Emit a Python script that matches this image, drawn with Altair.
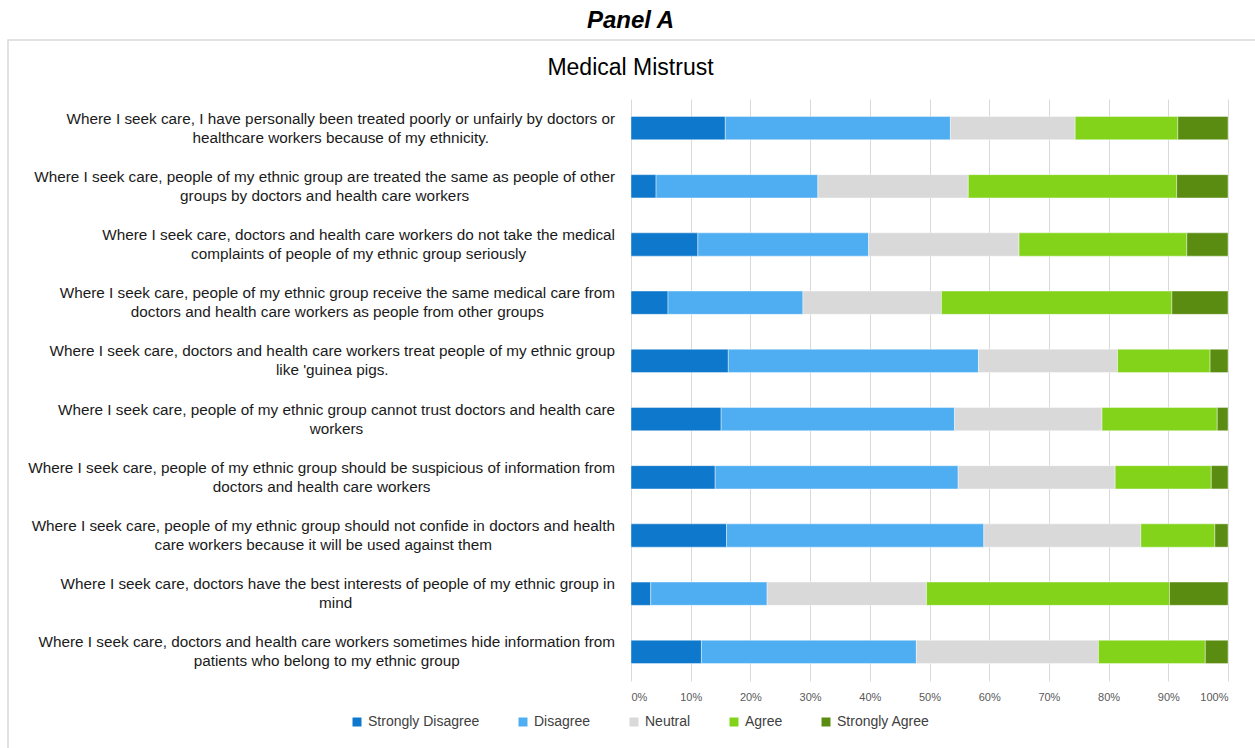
import altair as alt
import pandas as pd

# ---------------- data ----------------
line1 = [
    "Where I seek care, I have personally been treated poorly or unfairly by doctors or",
    "Where I seek care, people of my ethnic group are treated the same as people of other",
    "Where I seek care, doctors and health care workers do not take the medical",
    "Where I seek care, people of my ethnic group receive the same medical care from",
    "Where I seek care, doctors and health care workers treat people of my ethnic group",
    "Where I seek care, people of my ethnic group cannot trust doctors and health care",
    "Where I seek care, people of my ethnic group should be suspicious of information from",
    "Where I seek care, people of my ethnic group should not confide in doctors and health",
    "Where  I seek care, doctors have the best interests of people of my ethnic group in",
    "Where I seek care, doctors and health care workers sometimes hide information from",
]
line2 = [
    "healthcare workers because of my ethnicity.",
    "groups by doctors and health care workers",
    "complaints of people of my ethnic group seriously",
    "doctors and health care workers as people from other groups",
    "like 'guinea pigs.",
    "workers",
    "doctors and health care workers",
    "care workers because it will be used against them",
    "mind",
    "patients who belong to my ethnic group",
]
categories = ["Strongly Disagree", "Disagree", "Neutral", "Agree", "Strongly Agree"]
strongly_disagree = [15.8, 4.2, 11.2, 6.2, 16.3, 15.1, 14.1, 16.0, 3.3, 11.8]
disagree          = [37.7, 27.1, 28.6, 22.6, 41.9, 39.1, 40.7, 43.1, 19.5, 36.0]
neutral           = [20.9, 25.2, 25.2, 23.2, 23.3, 24.7, 26.3, 26.3, 26.7, 30.5]
agree             = [17.2, 34.9, 28.1, 38.6, 15.5, 19.3, 16.1, 12.4, 40.7, 17.9]
strongly_agree    = [8.4, 8.6, 6.9, 9.4, 3.0, 1.8, 2.8, 2.2, 9.8, 3.8]
x_ticks = [0, 0.1, 0.2, 0.3, 0.4, 0.5, 0.6, 0.7, 0.8, 0.9, 1.0]

colors = ["#0E78CC", "#4FAEF2", "#D9D9D9", "#82D31A", "#5A8C12"]

# ---------------- layout constants ----------------
W, H = 597, 582
FONT = "Liberation Sans"
LABEL_FS = 15.3
LABEL_GAP = 16

# Arial / Liberation Sans advance widths (per 1000 em)
_w = {" ": 278, "'": 191, ",": 278, ".": 278, "-": 333, "I": 278, "W": 944,
      "a": 556, "b": 556, "c": 500, "d": 556, "e": 556, "f": 278, "g": 556,
      "h": 556, "i": 222, "j": 222, "k": 500, "l": 222, "m": 833, "n": 556,
      "o": 556, "p": 556, "q": 556, "r": 333, "s": 500, "t": 278, "u": 556,
      "v": 500, "w": 722, "x": 500, "y": 500, "z": 500}


def text_width(s, fs):
    return sum(_w.get(ch, 556) for ch in s) * fs / 1000.0


questions = [a + " " + b for a, b in zip(line1, line2)]
series = [strongly_disagree, disagree, neutral, agree, strongly_agree]

rows = []
for qi, q in enumerate(questions):
    for ci, cat in enumerate(categories):
        rows.append({"question": q, "category": cat, "order": ci,
                     "value": series[ci][qi]})
bars_df = pd.DataFrame(rows)

lab_df = pd.DataFrame({
    "question": questions,
    "l1": line1,
    "l2": line2,
})
lab_df["x1"] = -LABEL_GAP
lab_df["x2"] = [-LABEL_GAP - text_width(s, LABEL_FS) / 2 for s in line1]

y_enc = alt.Y("question:N", sort=questions, axis=None,
              scale=alt.Scale(paddingInner=0.6, paddingOuter=0.3))

bars = alt.Chart(bars_df).mark_bar(stroke="white", strokeWidth=0.8,
                                    strokeOpacity=0.5).encode(
    x=alt.X("value:Q", stack="normalize", title=None,
            scale=alt.Scale(domain=[0, 1]),
            axis=alt.Axis(values=x_ticks, format=".0%", grid=True,
                          gridColor="#D9D9D9", gridWidth=1, domain=False,
                          ticks=False, labelFontSize=11, labelFont=FONT,
                          labelColor="#595959", labelPadding=10)),
    y=y_enc,
    color=alt.Color("category:N", sort=categories,
                    scale=alt.Scale(domain=categories, range=colors),
                    legend=alt.Legend(title=None, orient="none",
                                      direction="horizontal",
                                      legendX=-281, legendY=616,
                                      symbolType="square", symbolSize=81,
                                      symbolStrokeWidth=0, labelFontSize=14,
                                      labelFont=FONT, labelColor="#404040",
                                      columnPadding=36, labelOffset=4,
                                      padding=0)),
    order=alt.Order("order:Q"),
)

xs = alt.Scale(domain=[0, W])
lab1 = alt.Chart(lab_df).mark_text(align="right", baseline="middle",
                                    dy=-9.5, font=FONT, fontSize=LABEL_FS,
                                    color="#1A1A1A").encode(
    x=alt.X("x1:Q", scale=xs, axis=None), y=y_enc, text="l1:N")
lab2 = alt.Chart(lab_df).mark_text(align="center", baseline="middle",
                                    dy=9.5, font=FONT, fontSize=LABEL_FS,
                                    color="#1A1A1A").encode(
    x=alt.X("x2:Q", scale=xs, axis=None), y=y_enc, text="l2:N")

frame = alt.Chart(pd.DataFrame({"a": [0]})).mark_rect(
    fillOpacity=0, stroke="#D9D9D9", strokeWidth=1.5).encode(
    x=alt.value(-623), x2=alt.value(700), y=alt.value(-59), y2=alt.value(720))

chart = alt.layer(frame, bars, lab1, lab2).resolve_scale(
    x="independent"
).properties(
    width=W, height=H,
    padding={"left": 631, "top": 99, "right": 27, "bottom": 67},
    autosize=alt.AutoSizeParams(type="none"),
    background="white",
    title=alt.TitleParams(
        text="Panel A", subtitle="Medical Mistrust", anchor="middle",
        dx=-299, offset=-41, font=FONT, fontSize=24, fontWeight="bold",
        fontStyle="italic", color="#000000", subtitleFont=FONT,
        subtitleFontSize=23, subtitleColor="#000000", subtitlePadding=24),
).configure_view(stroke=None)

chart.save("out.html", embed_options={"renderer": "svg", "actions": False})
